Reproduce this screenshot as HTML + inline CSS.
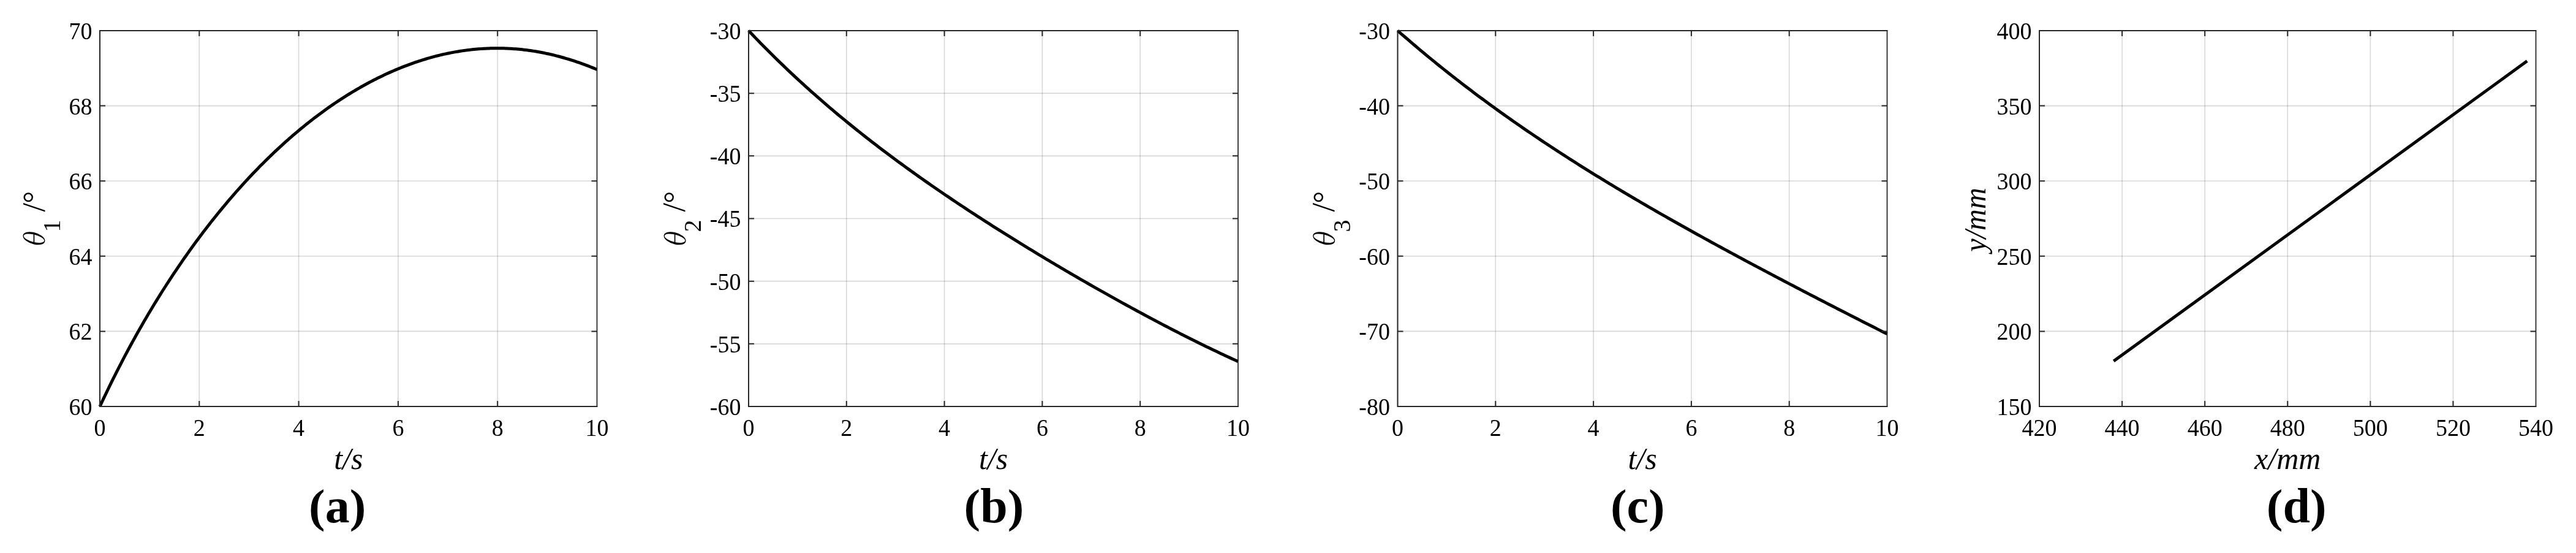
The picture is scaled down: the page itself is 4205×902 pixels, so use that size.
<!DOCTYPE html>
<html><head><meta charset="utf-8"><title>Joint angle and trajectory plots</title>
<style>
html,body{margin:0;padding:0;background:#fff;}
body{width:4205px;height:902px;overflow:hidden;}
svg{display:block;font-family:"Liberation Serif", serif;fill:#000;will-change:transform;transform:translateZ(0);}
</style></head><body>
<svg width="4205" height="902" viewBox="0 0 4205 902">
<rect width="4205" height="902" fill="#fff"/>
<g id="p0">
<path d="M163.00,50.0 V663.0 M325.30,50.0 V663.0 M487.60,50.0 V663.0 M649.90,50.0 V663.0 M812.20,50.0 V663.0 M974.50,50.0 V663.0" stroke="#262626" stroke-opacity="0.18" stroke-width="1.6" fill="none"/>
<path d="M163.0,663.00 H974.5 M163.0,540.40 H974.5 M163.0,417.80 H974.5 M163.0,295.20 H974.5 M163.0,172.60 H974.5 M163.0,50.00 H974.5" stroke="#262626" stroke-opacity="0.18" stroke-width="1.6" fill="none"/>
<path d="M163.00,663.00 L165.71,657.19 L168.43,651.44 L171.14,645.73 L173.86,640.07 L176.57,634.47 L179.28,628.91 L182.00,623.40 L184.71,617.94 L187.43,612.52 L190.14,607.15 L192.85,601.82 L195.57,596.54 L198.28,591.31 L201.00,586.11 L203.71,580.96 L206.42,575.85 L209.14,570.79 L211.85,565.76 L214.57,560.78 L217.28,555.84 L219.99,550.93 L222.71,546.07 L225.42,541.25 L228.14,536.46 L230.85,531.71 L233.57,527.00 L236.28,522.32 L238.99,517.69 L241.71,513.09 L244.42,508.52 L247.14,503.99 L249.85,499.50 L252.56,495.04 L255.28,490.61 L257.99,486.22 L260.71,481.86 L263.42,477.54 L266.13,473.24 L268.85,468.98 L271.56,464.76 L274.28,460.56 L276.99,456.40 L279.70,452.27 L282.42,448.16 L285.13,444.09 L287.85,440.05 L290.56,436.04 L293.27,432.06 L295.99,428.11 L298.70,424.19 L301.42,420.30 L304.13,416.44 L306.84,412.60 L309.56,408.80 L312.27,405.02 L314.99,401.27 L317.70,397.55 L320.41,393.85 L323.13,390.18 L325.84,386.54 L328.56,382.93 L331.27,379.34 L333.98,375.78 L336.70,372.25 L339.41,368.74 L342.13,365.26 L344.84,361.80 L347.56,358.37 L350.27,354.97 L352.98,351.59 L355.70,348.23 L358.41,344.90 L361.13,341.60 L363.84,338.32 L366.55,335.06 L369.27,331.83 L371.98,328.63 L374.70,325.44 L377.41,322.28 L380.12,319.15 L382.84,316.04 L385.55,312.95 L388.27,309.88 L390.98,306.84 L393.69,303.82 L396.41,300.83 L399.12,297.85 L401.84,294.91 L404.55,291.98 L407.26,289.07 L409.98,286.19 L412.69,283.33 L415.41,280.50 L418.12,277.68 L420.83,274.89 L423.55,272.12 L426.26,269.37 L428.98,266.64 L431.69,263.94 L434.40,261.26 L437.12,258.60 L439.83,255.96 L442.55,253.34 L445.26,250.74 L447.97,248.16 L450.69,245.61 L453.40,243.07 L456.12,240.56 L458.83,238.07 L461.55,235.60 L464.26,233.15 L466.97,230.72 L469.69,228.31 L472.40,225.92 L475.12,223.56 L477.83,221.21 L480.54,218.88 L483.26,216.58 L485.97,214.29 L488.69,212.03 L491.40,209.78 L494.11,207.56 L496.83,205.35 L499.54,203.17 L502.26,201.00 L504.97,198.86 L507.68,196.73 L510.40,194.63 L513.11,192.54 L515.83,190.48 L518.54,188.43 L521.25,186.41 L523.97,184.40 L526.68,182.41 L529.40,180.45 L532.11,178.50 L534.82,176.57 L537.54,174.66 L540.25,172.77 L542.97,170.90 L545.68,169.05 L548.39,167.22 L551.11,165.41 L553.82,163.61 L556.54,161.84 L559.25,160.08 L561.96,158.35 L564.68,156.63 L567.39,154.93 L570.11,153.25 L572.82,151.60 L575.54,149.95 L578.25,148.33 L580.96,146.73 L583.68,145.14 L586.39,143.58 L589.11,142.03 L591.82,140.51 L594.53,139.00 L597.25,137.51 L599.96,136.03 L602.68,134.58 L605.39,133.15 L608.10,131.73 L610.82,130.34 L613.53,128.96 L616.25,127.60 L618.96,126.26 L621.67,124.94 L624.39,123.63 L627.10,122.35 L629.82,121.08 L632.53,119.83 L635.24,118.60 L637.96,117.39 L640.67,116.20 L643.39,115.03 L646.10,113.87 L648.81,112.73 L651.53,111.62 L654.24,110.52 L656.96,109.44 L659.67,108.37 L662.38,107.33 L665.10,106.30 L667.81,105.30 L670.53,104.31 L673.24,103.34 L675.95,102.39 L678.67,101.45 L681.38,100.54 L684.10,99.64 L686.81,98.76 L689.53,97.90 L692.24,97.06 L694.95,96.24 L697.67,95.44 L700.38,94.65 L703.10,93.89 L705.81,93.14 L708.52,92.41 L711.24,91.70 L713.95,91.01 L716.67,90.34 L719.38,89.68 L722.09,89.05 L724.81,88.43 L727.52,87.83 L730.24,87.25 L732.95,86.69 L735.66,86.15 L738.38,85.63 L741.09,85.12 L743.81,84.63 L746.52,84.17 L749.23,83.72 L751.95,83.29 L754.66,82.88 L757.38,82.49 L760.09,82.12 L762.80,81.76 L765.52,81.43 L768.23,81.11 L770.95,80.82 L773.66,80.54 L776.37,80.28 L779.09,80.04 L781.80,79.82 L784.52,79.62 L787.23,79.44 L789.94,79.27 L792.66,79.13 L795.37,79.01 L798.09,78.90 L800.80,78.82 L803.52,78.75 L806.23,78.70 L808.94,78.67 L811.66,78.66 L814.37,78.68 L817.09,78.71 L819.80,78.75 L822.51,78.82 L825.23,78.91 L827.94,79.02 L830.66,79.15 L833.37,79.29 L836.08,79.46 L838.80,79.64 L841.51,79.85 L844.23,80.07 L846.94,80.32 L849.65,80.58 L852.37,80.86 L855.08,81.17 L857.80,81.49 L860.51,81.83 L863.22,82.19 L865.94,82.57 L868.65,82.97 L871.37,83.39 L874.08,83.83 L876.79,84.29 L879.51,84.77 L882.22,85.26 L884.94,85.78 L887.65,86.32 L890.36,86.87 L893.08,87.45 L895.79,88.04 L898.51,88.65 L901.22,89.29 L903.93,89.94 L906.65,90.61 L909.36,91.30 L912.08,92.01 L914.79,92.74 L917.51,93.48 L920.22,94.25 L922.93,95.03 L925.65,95.84 L928.36,96.66 L931.08,97.50 L933.79,98.36 L936.50,99.24 L939.22,100.13 L941.93,101.05 L944.65,101.98 L947.36,102.93 L950.07,103.90 L952.79,104.88 L955.50,105.88 L958.22,106.90 L960.93,107.94 L963.64,109.00 L966.36,110.07 L969.07,111.16 L971.79,112.26 L974.50,113.38" stroke="#000" stroke-width="5" fill="none" stroke-linejoin="round"/>
<path d="M325.30,663.0 v-9 M325.30,50.0 v9 M487.60,663.0 v-9 M487.60,50.0 v9 M649.90,663.0 v-9 M649.90,50.0 v9 M812.20,663.0 v-9 M812.20,50.0 v9 M163.0,540.40 h9 M974.5,540.40 h-9 M163.0,417.80 h9 M974.5,417.80 h-9 M163.0,295.20 h9 M974.5,295.20 h-9 M163.0,172.60 h9 M974.5,172.60 h-9" stroke="#262626" stroke-width="2" fill="none"/>
<path d="M975.3,50.0 H163.0 V663.0 H975.3" fill="none" stroke="#262626" stroke-width="2" stroke-linejoin="miter"/>
<path d="M974.5,49.0 V664.0" fill="none" stroke="#262626" stroke-width="1.7"/>
<text transform="translate(163.00,710.80) scale(1,1.04)" text-anchor="middle" style="font-size:38px;">0</text>
<text transform="translate(325.30,710.80) scale(1,1.04)" text-anchor="middle" style="font-size:38px;">2</text>
<text transform="translate(487.60,710.80) scale(1,1.04)" text-anchor="middle" style="font-size:38px;">4</text>
<text transform="translate(649.90,710.80) scale(1,1.04)" text-anchor="middle" style="font-size:38px;">6</text>
<text transform="translate(812.20,710.80) scale(1,1.04)" text-anchor="middle" style="font-size:38px;">8</text>
<text transform="translate(974.50,710.80) scale(1,1.04)" text-anchor="middle" style="font-size:38px;">10</text>
<text transform="translate(150.50,676.90) scale(1,1.04)" text-anchor="end" style="font-size:38px;">60</text>
<text transform="translate(150.50,554.30) scale(1,1.04)" text-anchor="end" style="font-size:38px;">62</text>
<text transform="translate(150.50,431.70) scale(1,1.04)" text-anchor="end" style="font-size:38px;">64</text>
<text transform="translate(150.50,309.10) scale(1,1.04)" text-anchor="end" style="font-size:38px;">66</text>
<text transform="translate(150.50,186.50) scale(1,1.04)" text-anchor="end" style="font-size:38px;">68</text>
<text transform="translate(150.50,63.90) scale(1,1.04)" text-anchor="end" style="font-size:38px;">70</text>
<text x="568.75" y="765.00" text-anchor="middle" style="font-size:50px;font-style:italic;" >t/s</text>
<g fill="#000">
<text x="504.06" y="851.50" text-anchor="start" style="font-size:80px;font-weight:bold;" transform="translate(0,832.0) scale(1,0.955) translate(0,-832.0)">(</text>
<text x="530.70" y="851.50" text-anchor="start" style="font-size:80px;font-weight:bold;" >a</text>
<text x="570.70" y="851.50" text-anchor="start" style="font-size:80px;font-weight:bold;" transform="translate(0,832.0) scale(1,0.955) translate(0,-832.0)">)</text>
</g>
<g transform="translate(74.0,357.0) rotate(-90)">
<g transform="translate(-31.70,-18.55) skewX(-12.7)"><path fill-rule="evenodd" d="M-9.7,0 A9.7,18.0 0 1 0 9.7,0 A9.7,18.0 0 1 0 -9.7,0 Z M-6.25,0 A6.25,16.7 0 1 0 6.25,0 A6.25,16.7 0 1 0 -6.25,0 Z"/><rect x="-6.75" y="-0.85" width="13.5" height="1.7"/></g>
<text x="-21.50" y="24.40" text-anchor="start" style="font-size:40px;" >1</text>
<text x="11.40" y="-1.30" text-anchor="start" style="font-size:52px;" >/</text>
<text x="25.30" y="-2.00" text-anchor="start" style="font-size:50px;" >&#176;</text>
</g>
</g>
<g id="p1">
<path d="M1222.00,50.0 V663.0 M1381.80,50.0 V663.0 M1541.60,50.0 V663.0 M1701.40,50.0 V663.0 M1861.20,50.0 V663.0 M2021.00,50.0 V663.0" stroke="#262626" stroke-opacity="0.18" stroke-width="1.6" fill="none"/>
<path d="M1222.0,663.00 H2021.0 M1222.0,560.83 H2021.0 M1222.0,458.67 H2021.0 M1222.0,356.50 H2021.0 M1222.0,254.33 H2021.0 M1222.0,152.17 H2021.0 M1222.0,50.00 H2021.0" stroke="#262626" stroke-opacity="0.18" stroke-width="1.6" fill="none"/>
<path d="M1222.00,50.00 L1226.02,54.24 L1230.03,58.45 L1234.05,62.62 L1238.06,66.77 L1242.08,70.89 L1246.09,74.97 L1250.11,79.03 L1254.12,83.07 L1258.14,87.07 L1262.15,91.04 L1266.17,94.99 L1270.18,98.91 L1274.20,102.80 L1278.21,106.67 L1282.23,110.51 L1286.24,114.33 L1290.26,118.12 L1294.27,121.88 L1298.29,125.62 L1302.30,129.34 L1306.32,133.03 L1310.33,136.70 L1314.35,140.34 L1318.36,143.96 L1322.38,147.56 L1326.39,151.14 L1330.41,154.69 L1334.42,158.22 L1338.44,161.73 L1342.45,165.22 L1346.47,168.69 L1350.48,172.13 L1354.50,175.56 L1358.51,178.96 L1362.53,182.35 L1366.54,185.71 L1370.56,189.06 L1374.57,192.39 L1378.59,195.69 L1382.60,198.98 L1386.62,202.25 L1390.63,205.51 L1394.65,208.74 L1398.66,211.96 L1402.68,215.16 L1406.69,218.34 L1410.71,221.51 L1414.72,224.66 L1418.74,227.79 L1422.75,230.91 L1426.77,234.01 L1430.78,237.09 L1434.80,240.16 L1438.81,243.22 L1442.83,246.26 L1446.84,249.28 L1450.86,252.29 L1454.87,255.29 L1458.89,258.27 L1462.90,261.24 L1466.92,264.19 L1470.93,267.13 L1474.95,270.06 L1478.96,272.97 L1482.98,275.87 L1486.99,278.76 L1491.01,281.64 L1495.03,284.50 L1499.04,287.35 L1503.06,290.19 L1507.07,293.02 L1511.09,295.83 L1515.10,298.64 L1519.12,301.43 L1523.13,304.21 L1527.15,306.98 L1531.16,309.74 L1535.18,312.49 L1539.19,315.23 L1543.21,317.96 L1547.22,320.68 L1551.24,323.39 L1555.25,326.09 L1559.27,328.78 L1563.28,331.46 L1567.30,334.13 L1571.31,336.79 L1575.33,339.44 L1579.34,342.08 L1583.36,344.72 L1587.37,347.34 L1591.39,349.96 L1595.40,352.57 L1599.42,355.17 L1603.43,357.76 L1607.45,360.34 L1611.46,362.92 L1615.48,365.48 L1619.49,368.04 L1623.51,370.59 L1627.52,373.14 L1631.54,375.67 L1635.55,378.20 L1639.57,380.72 L1643.58,383.24 L1647.60,385.74 L1651.61,388.24 L1655.63,390.73 L1659.64,393.22 L1663.66,395.70 L1667.67,398.17 L1671.69,400.63 L1675.70,403.09 L1679.72,405.54 L1683.73,407.99 L1687.75,410.42 L1691.76,412.86 L1695.78,415.28 L1699.79,417.70 L1703.81,420.11 L1707.82,422.52 L1711.84,424.92 L1715.85,427.31 L1719.87,429.70 L1723.88,432.08 L1727.90,434.45 L1731.91,436.82 L1735.93,439.18 L1739.94,441.54 L1743.96,443.89 L1747.97,446.24 L1751.99,448.57 L1756.01,450.91 L1760.02,453.23 L1764.04,455.55 L1768.05,457.87 L1772.07,460.18 L1776.08,462.48 L1780.10,464.78 L1784.11,467.07 L1788.13,469.35 L1792.14,471.63 L1796.16,473.90 L1800.17,476.17 L1804.19,478.43 L1808.20,480.68 L1812.22,482.93 L1816.23,485.17 L1820.25,487.40 L1824.26,489.63 L1828.28,491.85 L1832.29,494.07 L1836.31,496.28 L1840.32,498.48 L1844.34,500.68 L1848.35,502.87 L1852.37,505.05 L1856.38,507.23 L1860.40,509.40 L1864.41,511.56 L1868.43,513.72 L1872.44,515.87 L1876.46,518.01 L1880.47,520.15 L1884.49,522.28 L1888.50,524.40 L1892.52,526.51 L1896.53,528.62 L1900.55,530.71 L1904.56,532.80 L1908.58,534.89 L1912.59,536.96 L1916.61,539.03 L1920.62,541.09 L1924.64,543.14 L1928.65,545.18 L1932.67,547.22 L1936.68,549.25 L1940.70,551.26 L1944.71,553.27 L1948.73,555.27 L1952.74,557.26 L1956.76,559.25 L1960.77,561.22 L1964.79,563.18 L1968.80,565.14 L1972.82,567.08 L1976.83,569.02 L1980.85,570.94 L1984.86,572.86 L1988.88,574.76 L1992.89,576.66 L1996.91,578.54 L2000.92,580.41 L2004.94,582.28 L2008.95,584.13 L2012.97,585.97 L2016.98,587.80 L2021.00,589.62" stroke="#000" stroke-width="5" fill="none" stroke-linejoin="round"/>
<path d="M1381.80,663.0 v-9 M1381.80,50.0 v9 M1541.60,663.0 v-9 M1541.60,50.0 v9 M1701.40,663.0 v-9 M1701.40,50.0 v9 M1861.20,663.0 v-9 M1861.20,50.0 v9 M1222.0,560.83 h9 M2021.0,560.83 h-9 M1222.0,458.67 h9 M2021.0,458.67 h-9 M1222.0,356.50 h9 M2021.0,356.50 h-9 M1222.0,254.33 h9 M2021.0,254.33 h-9 M1222.0,152.17 h9 M2021.0,152.17 h-9" stroke="#262626" stroke-width="2" fill="none"/>
<path d="M2021.8,50.0 H1222.0 V663.0 H2021.8" fill="none" stroke="#262626" stroke-width="2" stroke-linejoin="miter"/>
<path d="M2021.0,49.0 V664.0" fill="none" stroke="#262626" stroke-width="1.7"/>
<text transform="translate(1222.00,710.80) scale(1,1.04)" text-anchor="middle" style="font-size:38px;">0</text>
<text transform="translate(1381.80,710.80) scale(1,1.04)" text-anchor="middle" style="font-size:38px;">2</text>
<text transform="translate(1541.60,710.80) scale(1,1.04)" text-anchor="middle" style="font-size:38px;">4</text>
<text transform="translate(1701.40,710.80) scale(1,1.04)" text-anchor="middle" style="font-size:38px;">6</text>
<text transform="translate(1861.20,710.80) scale(1,1.04)" text-anchor="middle" style="font-size:38px;">8</text>
<text transform="translate(2021.00,710.80) scale(1,1.04)" text-anchor="middle" style="font-size:38px;">10</text>
<text transform="translate(1209.50,676.90) scale(1,1.04)" text-anchor="end" style="font-size:38px;">-60</text>
<text transform="translate(1209.50,574.73) scale(1,1.04)" text-anchor="end" style="font-size:38px;">-55</text>
<text transform="translate(1209.50,472.57) scale(1,1.04)" text-anchor="end" style="font-size:38px;">-50</text>
<text transform="translate(1209.50,370.40) scale(1,1.04)" text-anchor="end" style="font-size:38px;">-45</text>
<text transform="translate(1209.50,268.23) scale(1,1.04)" text-anchor="end" style="font-size:38px;">-40</text>
<text transform="translate(1209.50,166.07) scale(1,1.04)" text-anchor="end" style="font-size:38px;">-35</text>
<text transform="translate(1209.50,63.90) scale(1,1.04)" text-anchor="end" style="font-size:38px;">-30</text>
<text x="1621.50" y="765.00" text-anchor="middle" style="font-size:50px;font-style:italic;" >t/s</text>
<g fill="#000">
<text x="1573.52" y="851.50" text-anchor="start" style="font-size:80px;font-weight:bold;" transform="translate(0,832.0) scale(1,0.955) translate(0,-832.0)">(</text>
<text x="1600.16" y="851.50" text-anchor="start" style="font-size:80px;font-weight:bold;" >b</text>
<text x="1644.64" y="851.50" text-anchor="start" style="font-size:80px;font-weight:bold;" transform="translate(0,832.0) scale(1,0.955) translate(0,-832.0)">)</text>
</g>
<g transform="translate(1119.5,357.0) rotate(-90)">
<g transform="translate(-31.70,-17.90) skewX(-12.7)"><path fill-rule="evenodd" d="M-9.7,0 A9.7,18.0 0 1 0 9.7,0 A9.7,18.0 0 1 0 -9.7,0 Z M-6.25,0 A6.25,16.7 0 1 0 6.25,0 A6.25,16.7 0 1 0 -6.25,0 Z"/><rect x="-6.75" y="-0.85" width="13.5" height="1.7"/></g>
<text x="-21.50" y="24.40" text-anchor="start" style="font-size:40px;" >2</text>
<text x="11.40" y="-1.30" text-anchor="start" style="font-size:52px;" >/</text>
<text x="25.30" y="-2.00" text-anchor="start" style="font-size:50px;" >&#176;</text>
</g>
</g>
<g id="p2">
<path d="M2281.50,50.0 V663.0 M2441.30,50.0 V663.0 M2601.10,50.0 V663.0 M2760.90,50.0 V663.0 M2920.70,50.0 V663.0 M3080.50,50.0 V663.0" stroke="#262626" stroke-opacity="0.18" stroke-width="1.6" fill="none"/>
<path d="M2281.5,663.00 H3080.5 M2281.5,540.40 H3080.5 M2281.5,417.80 H3080.5 M2281.5,295.20 H3080.5 M2281.5,172.60 H3080.5 M2281.5,50.00 H3080.5" stroke="#262626" stroke-opacity="0.18" stroke-width="1.6" fill="none"/>
<path d="M2281.50,50.00 L2285.52,53.52 L2289.53,57.03 L2293.55,60.51 L2297.56,63.98 L2301.58,67.43 L2305.59,70.86 L2309.61,74.27 L2313.62,77.66 L2317.64,81.04 L2321.65,84.40 L2325.67,87.74 L2329.68,91.06 L2333.70,94.37 L2337.71,97.66 L2341.73,100.93 L2345.74,104.19 L2349.76,107.43 L2353.77,110.65 L2357.79,113.86 L2361.80,117.05 L2365.82,120.22 L2369.83,123.38 L2373.85,126.53 L2377.86,129.65 L2381.88,132.77 L2385.89,135.87 L2389.91,138.95 L2393.92,142.02 L2397.94,145.07 L2401.95,148.11 L2405.97,151.13 L2409.98,154.14 L2414.00,157.14 L2418.01,160.12 L2422.03,163.09 L2426.04,166.04 L2430.06,168.98 L2434.07,171.91 L2438.09,174.83 L2442.10,177.73 L2446.12,180.62 L2450.13,183.49 L2454.15,186.36 L2458.16,189.21 L2462.18,192.04 L2466.19,194.87 L2470.21,197.68 L2474.22,200.48 L2478.24,203.27 L2482.25,206.05 L2486.27,208.82 L2490.28,211.57 L2494.30,214.32 L2498.31,217.05 L2502.33,219.77 L2506.34,222.48 L2510.36,225.18 L2514.37,227.87 L2518.39,230.55 L2522.40,233.21 L2526.42,235.87 L2530.43,238.52 L2534.45,241.16 L2538.46,243.78 L2542.48,246.40 L2546.49,249.01 L2550.51,251.60 L2554.53,254.19 L2558.54,256.77 L2562.56,259.34 L2566.57,261.90 L2570.59,264.45 L2574.60,266.99 L2578.62,269.53 L2582.63,272.05 L2586.65,274.57 L2590.66,277.08 L2594.68,279.57 L2598.69,282.07 L2602.71,284.55 L2606.72,287.02 L2610.74,289.49 L2614.75,291.95 L2618.77,294.40 L2622.78,296.84 L2626.80,299.28 L2630.81,301.71 L2634.83,304.13 L2638.84,306.54 L2642.86,308.95 L2646.87,311.35 L2650.89,313.74 L2654.90,316.12 L2658.92,318.50 L2662.93,320.87 L2666.95,323.24 L2670.96,325.60 L2674.98,327.95 L2678.99,330.30 L2683.01,332.64 L2687.02,334.97 L2691.04,337.30 L2695.05,339.62 L2699.07,341.93 L2703.08,344.24 L2707.10,346.55 L2711.11,348.85 L2715.13,351.14 L2719.14,353.43 L2723.16,355.71 L2727.17,357.99 L2731.19,360.26 L2735.20,362.52 L2739.22,364.79 L2743.23,367.04 L2747.25,369.29 L2751.26,371.54 L2755.28,373.78 L2759.29,376.02 L2763.31,378.25 L2767.32,380.48 L2771.34,382.70 L2775.35,384.92 L2779.37,387.14 L2783.38,389.35 L2787.40,391.55 L2791.41,393.76 L2795.43,395.95 L2799.44,398.15 L2803.46,400.34 L2807.47,402.52 L2811.49,404.71 L2815.51,406.88 L2819.52,409.06 L2823.54,411.23 L2827.55,413.40 L2831.57,415.56 L2835.58,417.72 L2839.60,419.88 L2843.61,422.03 L2847.63,424.18 L2851.64,426.33 L2855.66,428.48 L2859.67,430.62 L2863.69,432.75 L2867.70,434.89 L2871.72,437.02 L2875.73,439.15 L2879.75,441.28 L2883.76,443.40 L2887.78,445.52 L2891.79,447.64 L2895.81,449.75 L2899.82,451.86 L2903.84,453.97 L2907.85,456.08 L2911.87,458.19 L2915.88,460.29 L2919.90,462.39 L2923.91,464.48 L2927.93,466.58 L2931.94,468.67 L2935.96,470.76 L2939.97,472.85 L2943.99,474.94 L2948.00,477.02 L2952.02,479.10 L2956.03,481.18 L2960.05,483.26 L2964.06,485.33 L2968.08,487.41 L2972.09,489.48 L2976.11,491.55 L2980.12,493.61 L2984.14,495.68 L2988.15,497.74 L2992.17,499.80 L2996.18,501.86 L3000.20,503.92 L3004.21,505.98 L3008.23,508.03 L3012.24,510.08 L3016.26,512.13 L3020.27,514.18 L3024.29,516.23 L3028.30,518.27 L3032.32,520.32 L3036.33,522.36 L3040.35,524.40 L3044.36,526.44 L3048.38,528.48 L3052.39,530.51 L3056.41,532.55 L3060.42,534.58 L3064.44,536.61 L3068.45,538.64 L3072.47,540.67 L3076.48,542.69 L3080.50,544.72" stroke="#000" stroke-width="5" fill="none" stroke-linejoin="round"/>
<path d="M2441.30,663.0 v-9 M2441.30,50.0 v9 M2601.10,663.0 v-9 M2601.10,50.0 v9 M2760.90,663.0 v-9 M2760.90,50.0 v9 M2920.70,663.0 v-9 M2920.70,50.0 v9 M2281.5,540.40 h9 M3080.5,540.40 h-9 M2281.5,417.80 h9 M3080.5,417.80 h-9 M2281.5,295.20 h9 M3080.5,295.20 h-9 M2281.5,172.60 h9 M3080.5,172.60 h-9" stroke="#262626" stroke-width="2" fill="none"/>
<path d="M3081.3,50.0 H2281.5 V663.0 H3081.3" fill="none" stroke="#262626" stroke-width="2" stroke-linejoin="miter"/>
<path d="M3080.5,49.0 V664.0" fill="none" stroke="#262626" stroke-width="1.7"/>
<text transform="translate(2281.50,710.80) scale(1,1.04)" text-anchor="middle" style="font-size:38px;">0</text>
<text transform="translate(2441.30,710.80) scale(1,1.04)" text-anchor="middle" style="font-size:38px;">2</text>
<text transform="translate(2601.10,710.80) scale(1,1.04)" text-anchor="middle" style="font-size:38px;">4</text>
<text transform="translate(2760.90,710.80) scale(1,1.04)" text-anchor="middle" style="font-size:38px;">6</text>
<text transform="translate(2920.70,710.80) scale(1,1.04)" text-anchor="middle" style="font-size:38px;">8</text>
<text transform="translate(3080.50,710.80) scale(1,1.04)" text-anchor="middle" style="font-size:38px;">10</text>
<text transform="translate(2269.00,676.90) scale(1,1.04)" text-anchor="end" style="font-size:38px;">-80</text>
<text transform="translate(2269.00,554.30) scale(1,1.04)" text-anchor="end" style="font-size:38px;">-70</text>
<text transform="translate(2269.00,431.70) scale(1,1.04)" text-anchor="end" style="font-size:38px;">-60</text>
<text transform="translate(2269.00,309.10) scale(1,1.04)" text-anchor="end" style="font-size:38px;">-50</text>
<text transform="translate(2269.00,186.50) scale(1,1.04)" text-anchor="end" style="font-size:38px;">-40</text>
<text transform="translate(2269.00,63.90) scale(1,1.04)" text-anchor="end" style="font-size:38px;">-30</text>
<text x="2681.00" y="765.00" text-anchor="middle" style="font-size:50px;font-style:italic;" >t/s</text>
<g fill="#000">
<text x="2628.90" y="851.50" text-anchor="start" style="font-size:80px;font-weight:bold;" transform="translate(0,832.0) scale(1,0.955) translate(0,-832.0)">(</text>
<text x="2655.54" y="851.50" text-anchor="start" style="font-size:80px;font-weight:bold;" >c</text>
<text x="2691.06" y="851.50" text-anchor="start" style="font-size:80px;font-weight:bold;" transform="translate(0,832.0) scale(1,0.955) translate(0,-832.0)">)</text>
</g>
<g transform="translate(2179.5,357.0) rotate(-90)">
<g transform="translate(-31.70,-18.35) skewX(-12.7)"><path fill-rule="evenodd" d="M-9.7,0 A9.7,18.0 0 1 0 9.7,0 A9.7,18.0 0 1 0 -9.7,0 Z M-6.25,0 A6.25,16.7 0 1 0 6.25,0 A6.25,16.7 0 1 0 -6.25,0 Z"/><rect x="-6.75" y="-0.85" width="13.5" height="1.7"/></g>
<text x="-21.50" y="24.40" text-anchor="start" style="font-size:40px;" >3</text>
<text x="11.40" y="-1.30" text-anchor="start" style="font-size:52px;" >/</text>
<text x="25.30" y="-2.00" text-anchor="start" style="font-size:50px;" >&#176;</text>
</g>
</g>
<g id="p3">
<path d="M3329.00,50.0 V663.0 M3464.08,50.0 V663.0 M3599.17,50.0 V663.0 M3734.25,50.0 V663.0 M3869.33,50.0 V663.0 M4004.42,50.0 V663.0 M4139.50,50.0 V663.0" stroke="#262626" stroke-opacity="0.18" stroke-width="1.6" fill="none"/>
<path d="M3329.0,663.00 H4139.5 M3329.0,540.40 H4139.5 M3329.0,417.80 H4139.5 M3329.0,295.20 H4139.5 M3329.0,172.60 H4139.5 M3329.0,50.00 H4139.5" stroke="#262626" stroke-opacity="0.18" stroke-width="1.6" fill="none"/>
<path d="M3450.30,589.00 L4125.20,99.60" stroke="#000" stroke-width="5" fill="none" stroke-linejoin="round"/>
<path d="M3464.08,663.0 v-9 M3464.08,50.0 v9 M3599.17,663.0 v-9 M3599.17,50.0 v9 M3734.25,663.0 v-9 M3734.25,50.0 v9 M3869.33,663.0 v-9 M3869.33,50.0 v9 M4004.42,663.0 v-9 M4004.42,50.0 v9 M3329.0,540.40 h9 M4139.5,540.40 h-9 M3329.0,417.80 h9 M4139.5,417.80 h-9 M3329.0,295.20 h9 M4139.5,295.20 h-9 M3329.0,172.60 h9 M4139.5,172.60 h-9" stroke="#262626" stroke-width="2" fill="none"/>
<path d="M4140.3,50.0 H3329.0 V663.0 H4140.3" fill="none" stroke="#262626" stroke-width="2" stroke-linejoin="miter"/>
<path d="M4139.5,49.0 V664.0" fill="none" stroke="#262626" stroke-width="1.7"/>
<text transform="translate(3329.00,710.80) scale(1,1.04)" text-anchor="middle" style="font-size:38px;">420</text>
<text transform="translate(3464.08,710.80) scale(1,1.04)" text-anchor="middle" style="font-size:38px;">440</text>
<text transform="translate(3599.17,710.80) scale(1,1.04)" text-anchor="middle" style="font-size:38px;">460</text>
<text transform="translate(3734.25,710.80) scale(1,1.04)" text-anchor="middle" style="font-size:38px;">480</text>
<text transform="translate(3869.33,710.80) scale(1,1.04)" text-anchor="middle" style="font-size:38px;">500</text>
<text transform="translate(4004.42,710.80) scale(1,1.04)" text-anchor="middle" style="font-size:38px;">520</text>
<text transform="translate(4139.50,710.80) scale(1,1.04)" text-anchor="middle" style="font-size:38px;">540</text>
<text transform="translate(3316.50,676.90) scale(1,1.04)" text-anchor="end" style="font-size:38px;">150</text>
<text transform="translate(3316.50,554.30) scale(1,1.04)" text-anchor="end" style="font-size:38px;">200</text>
<text transform="translate(3316.50,431.70) scale(1,1.04)" text-anchor="end" style="font-size:38px;">250</text>
<text transform="translate(3316.50,309.10) scale(1,1.04)" text-anchor="end" style="font-size:38px;">300</text>
<text transform="translate(3316.50,186.50) scale(1,1.04)" text-anchor="end" style="font-size:38px;">350</text>
<text transform="translate(3316.50,63.90) scale(1,1.04)" text-anchor="end" style="font-size:38px;">400</text>
<text x="3734.25" y="765.00" text-anchor="middle" style="font-size:50px;font-style:italic;" >x/mm</text>
<g fill="#000">
<text x="3699.82" y="851.50" text-anchor="start" style="font-size:80px;font-weight:bold;" transform="translate(0,832.0) scale(1,0.955) translate(0,-832.0)">(</text>
<text x="3726.46" y="851.50" text-anchor="start" style="font-size:80px;font-weight:bold;" >d</text>
<text x="3770.94" y="851.50" text-anchor="start" style="font-size:80px;font-weight:bold;" transform="translate(0,832.0) scale(1,0.955) translate(0,-832.0)">)</text>
</g>
<g transform="translate(3241.0,357.0) rotate(-90)">
<text x="-1.50" y="0.00" text-anchor="middle" style="font-size:50px;font-style:italic;" transform="scale(0.966,1)">y/mm</text>
</g>
</g>
</svg>
</body></html>
